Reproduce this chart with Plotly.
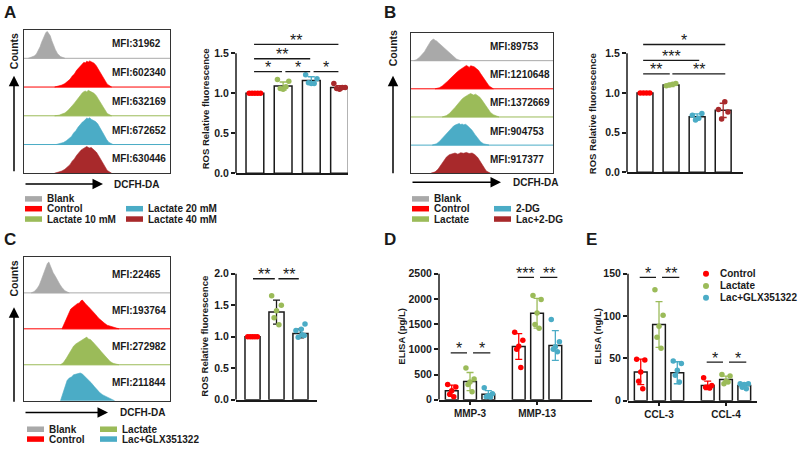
import plotly.graph_objects as go

W, H = 798, 450
FONT = "Liberation Sans"

GREY = "#a9a9a9"
RED = "#ff0000"
GREEN = "#9bbb59"
BLUE = "#4bacc6"
DRED = "#a8292b"
INK = "#1a1a1a"

# ---------------- data ----------------
# flow histograms: x = % of the DCFH-DA window, h = fraction of the row height
a_blank_x = [3, 5, 7, 8.5, 10, 11, 12, 13, 14, 15, 16, 17, 18, 19, 20, 21.5, 23, 25, 28]
a_blank_h = [0, .03, .08, .15, .28, .4, .55, .68, .8, .9, .93, .86, .78, .62, .48, .3, .16, .06, 0]
a_ctrl_x = [21, 24, 26, 28, 30, 31.5, 33, 34.5, 36, 37.5, 39, 40, 41, 42, 43, 44, 45, 46, 47, 48,
            49.5, 51, 52.5, 54, 55.5, 57, 60]
a_ctrl_h = [0, .03, .07, .12, .2, .27, .38, .45, .58, .66, .76, .8, .86, .84, .9, .87, .91, .88,
            .86, .83, .74, .62, .5, .36, .22, .1, 0]
a_l10_x = [21, 24, 26, 28, 30, 31.5, 33, 34.5, 36, 37.5, 39, 40, 41, 42, 43, 44, 45, 46, 47, 48,
           49.5, 51, 52.5, 54, 55.5, 57, 60]
a_l10_h = [0, .02, .06, .1, .18, .25, .35, .44, .55, .64, .74, .8, .84, .86, .83, .89, .86, .84,
           .8, .78, .7, .58, .46, .32, .2, .08, 0]
a_l20_x = [22, 25, 27, 29, 31, 32.5, 34, 35.5, 37, 38.5, 40, 41, 42, 43, 44, 45, 46, 47, 48, 49,
           50.5, 52, 53.5, 55, 56.5, 58, 61]
a_l20_h = [0, .03, .07, .13, .2, .28, .4, .48, .6, .7, .78, .82, .87, .92, .9, .93, .88, .86,
           .84, .8, .72, .6, .46, .32, .18, .08, 0]
a_l40_x = [21, 24, 26, 28, 30, 31.5, 33, 34.5, 36, 37.5, 39, 40, 41, 42, 43, 44, 45, 46, 47, 48,
           49.5, 51, 52.5, 54, 55.5, 57, 60]
a_l40_h = [0, .04, .08, .14, .22, .3, .42, .5, .62, .72, .8, .84, .88, .9, .93, .9, .88, .9,
           .85, .8, .74, .62, .5, .36, .22, .1, 0]
a_mfi = [31962, 602340, 632169, 672652, 630446]

b_blank_x = [2, 4, 6, 8, 9.5, 11, 12.5, 14, 15, 16, 17, 18, 19.5, 21, 22.5, 24, 26, 28, 30, 32, 35]
b_blank_h = [0, .04, .12, .22, .32, .45, .58, .7, .74, .77, .72, .7, .63, .56, .5, .42, .34, .22,
             .13, .06, 0]
b_ctrl_x = [17, 20, 22, 24, 26, 28, 29.5, 31, 32.5, 34, 35.5, 37, 38, 39, 40, 41, 42, 43, 44.5,
            46, 47.5, 49, 51, 53, 55, 58]
b_ctrl_h = [0, .04, .1, .18, .28, .38, .46, .55, .6, .66, .72, .78, .8, .83, .8, .76, .82, .8,
            .78, .72, .66, .54, .4, .24, .1, 0]
b_lac_x = [22, 25, 27, 29, 31, 33, 34.5, 36, 37.5, 39, 40, 41, 42, 43, 44, 45.5, 47, 48.5, 50,
           52, 54, 56, 58, 62]
b_lac_h = [0, .05, .12, .22, .34, .46, .56, .64, .7, .76, .78, .81, .83, .79, .78, .81, .76, .7,
           .6, .46, .3, .16, .08, 0]
b_dg_x = [15, 18, 20, 22, 24, 25.5, 27, 28.5, 30, 31.5, 33, 34, 35, 36, 37, 38.5, 40, 41.5, 43,
          45, 47, 49, 51, 55]
b_dg_h = [0, .05, .13, .24, .36, .46, .55, .62, .68, .72, .74, .77, .73, .75, .72, .74, .68, .62,
          .53, .38, .24, .12, .05, 0]
b_lacdg_x = [14, 17, 19, 21, 23, 25, 27, 29, 31, 33, 35, 37, 39, 41, 43, 45, 47, 49, 51, 53, 56]
b_lacdg_h = [0, .05, .14, .28, .44, .58, .66, .7, .72, .68, .73, .71, .74, .7, .72, .66, .56,
             .4, .22, .08, 0]
b_mfi = [89753, 1210648, 1372669, 904753, 917377]

c_blank_x = [5, 7, 9, 10.5, 12, 13, 14, 15, 16, 17, 18, 19, 20, 21.5, 23, 24.5, 26, 28, 31]
c_blank_h = [0, .04, .12, .22, .38, .5, .62, .74, .82, .86, .76, .64, .56, .46, .34, .24, .15,
             .06, 0]
c_ctrl_x = [26, 27.5, 29, 30.5, 32, 33.5, 35, 36.5, 38, 39, 40, 41, 42.5, 44, 45.5, 47, 49, 51,
            53, 55, 57, 59, 61, 63, 65]
c_ctrl_h = [0, .14, .3, .45, .55, .6, .66, .7, .72, .78, .8, .74, .68, .62, .56, .48, .4, .3,
            .22, .16, .1, .07, .05, .02, 0]
c_lac_x = [25, 27, 29, 31, 32.5, 34, 35.5, 37, 38.5, 40, 41, 42, 43, 44, 45.5, 47, 49, 51, 53,
           55, 57, 59, 61, 65]
c_lac_h = [0, .06, .18, .32, .44, .52, .58, .62, .66, .7, .73, .76, .77, .72, .7, .64, .56, .46,
           .36, .26, .16, .09, .04, 0]
c_glx_x = [25, 26.5, 28, 29.5, 31, 32.5, 34, 35.5, 37, 38.5, 40, 41.5, 43, 44.5, 46, 48, 50, 52,
           54, 56, 58, 60, 62]
c_glx_h = [0, .2, .42, .56, .63, .66, .72, .74, .76, .77, .74, .68, .63, .56, .5, .4, .3, .22,
           .16, .12, .08, .04, 0]
c_mfi = [22465, 193764, 272982, 211844]

# ROS relative fluorescence
a_mean = [1.0, 1.09, 1.16, 1.07]
a_sd = [0.0, 0.05, 0.045, 0.025]
a_pts = [[1.0, 1.0, 1.0, 1.0, 1.0],
         [1.17, 1.15, 1.05, 1.06, 1.08],
         [1.23, 1.18, 1.12, 1.13, 1.12],
         [1.12, 1.07, 1.05, 1.06, 1.07]]
a_sig = [(0, 1, 1.27, "*"), (1, 2, 1.27, "*"), (2, 3, 1.27, "*"),
         (0, 2, 1.43, "**"), (0, 3, 1.61, "**")]

b_mean = [1.0, 1.10, 0.70, 0.78]
b_sd = [0.0, 0.02, 0.035, 0.09]
b_pts = [[1.0, 1.0, 1.0, 1.0],
         [1.09, 1.12, 1.10, 1.11],
         [0.72, 0.74, 0.66, 0.68],
         [0.79, 0.76, 0.67, 0.89]]
b_sig = [(0, 1, 1.24, "**"), (1, 3, 1.24, "**"), (0, 2, 1.41, "***"), (0, 3, 1.61, "*")]

c_mean = [1.0, 1.39, 1.05]
c_sd = [0.0, 0.19, 0.07]
c_pts = [[1.0, 1.0, 1.0, 1.0, 1.0],
         [1.65, 1.50, 1.41, 1.30, 1.19],
         [1.20, 1.12, 1.10, 1.03, 0.99, 1.02]]
c_sig = [(0, 1, 1.92, "**"), (1, 2, 1.92, "**")]

# ELISA
d_cats = ["MMP-3", "MMP-13"]
d_mean = [[178, 1055], [360, 1715], [110, 1075]]
d_sd = [[110, 255], [180, 295], [70, 295]]
d_pts = [[[300, 250, 180, 110, 60], [1340, 1180, 1060, 1000, 640]],
         [[630, 410, 350, 300, 160], [2070, 1990, 1720, 1490, 1420]],
         [[235, 120, 80, 60, 50], [1590, 1150, 1050, 1000, 950]]]
d_sig = [(0, 0, 1, 930, "*"), (0, 1, 2, 930, "*"), (1, 0, 1, 2428, "***"), (1, 1, 2, 2428, "**")]

e_cats = ["CCL-3", "CCL-4"]
e_mean = [[34, 18], [90, 25], [33, 18]]
e_sd = [[15, 5], [27, 4], [13, 2.5]]
e_pts = [[[49, 48, 34, 23, 14], [27, 18, 16, 16, 15]],
         [[131, 101, 88, 75, 62], [31, 29, 23, 20, 22]],
         [[47, 44, 36, 30, 22], [20, 20, 19, 16, 14]]]
e_sig = [(0, 0, 1, 145.5, "*"), (0, 1, 2, 145.5, "**"), (1, 0, 1, 45.5, "*"), (1, 1, 2, 45.5, "*")]
e_groups = ["Control", "Lactate", "Lac+GLX351322"]

# ---------------- helpers ----------------
fig = go.Figure()

J = {4: [-0.3, 0.3, -0.1, 0.1],
     5: [-0.32, 0.32, 0.0, -0.16, 0.16],
     6: [0.3, 0.05, -0.3, 0.1, -0.15, 0.25]}


def fx(p):
    return p / W


def fy(p):
    return 1 - p / H


def bfont(size, color=INK):
    return dict(family=FONT, size=size, color=color, weight="bold")


def names(n):
    return ("x" if n == 1 else f"x{n}"), ("y" if n == 1 else f"y{n}")


def label(x, y, s, size=10, anchor="left", angle=0):
    fig.add_annotation(x=fx(x), y=fy(y), xref="paper", yref="paper", text=s,
                       showarrow=False, xanchor=anchor, yanchor="middle",
                       textangle=angle, font=bfont(size))


def arrow(xh, yh, ax, ay):
    fig.add_annotation(x=fx(xh), y=fy(yh), xref="paper", yref="paper", text="",
                       showarrow=True, ax=ax, ay=ay, arrowhead=2, arrowsize=1.4,
                       arrowwidth=1.5, arrowcolor="black")


def swatch(x, y, col):
    fig.add_shape(type="rect", xref="paper", yref="paper", x0=fx(x), x1=fx(x + 17),
                  y0=fy(y + 2.8), y1=fy(y - 2.8), fillcolor=col, line_width=0)


def hist_panel(n, box, curves, mfi, mfi_x):
    xl, xr, yt, yb = box
    xa, ya = names(n)
    rows = len(curves)
    fig.update_layout(**{
        ("xaxis" if n == 1 else f"xaxis{n}"): dict(
            domain=[fx(xl), fx(xr)], anchor=ya, range=[0, 100], showline=True, mirror=True,
            linecolor="#333", linewidth=1.3, showticklabels=False, ticks="",
            showgrid=False, zeroline=False, fixedrange=True),
        ("yaxis" if n == 1 else f"yaxis{n}"): dict(
            domain=[fy(yb), fy(yt)], anchor=xa, range=[0, rows], showline=True, mirror=True,
            linecolor="#333", linewidth=1.3, showticklabels=False, ticks="",
            showgrid=False, zeroline=False, fixedrange=True)})
    for i, (xs, hs, col) in enumerate(curves):
        base = rows - 1 - i
        fig.add_trace(go.Scatter(
            x=list(xs) + [xs[-1], xs[0]], y=[base + h for h in hs] + [base, base],
            mode="lines", fill="toself", fillcolor=col, line=dict(width=0.6, color=col),
            xaxis=xa, yaxis=ya, hoverinfo="skip", showlegend=False))
        if base > 0:
            fig.add_trace(go.Scatter(
                x=[0, 100], y=[base, base], mode="lines", line=dict(width=1, color=col),
                xaxis=xa, yaxis=ya, hoverinfo="skip", showlegend=False))
        fig.add_annotation(x=mfi_x, y=base + 0.5, xref=xa, yref=ya, text=f"MFI:{mfi[i]}",
                           showarrow=False, xanchor="left", yanchor="middle", font=bfont(10))


def bar_axes(n, xl, xr, ybot, ytop, xrange, ytop_val, tickvals, fmt, cats=None):
    xa, ya = names(n)
    xax = dict(domain=[fx(xl), fx(xr)], anchor=ya, range=xrange, showline=True,
               linecolor=INK, linewidth=1.5, showgrid=False, zeroline=False, fixedrange=True,
               ticks="", showticklabels=False)
    if cats:
        xax.update(tickvals=list(range(len(cats))), ticktext=cats, ticks="outside",
                   ticklen=4, tickwidth=1.5, tickcolor=INK, showticklabels=True,
                   tickfont=bfont(10))
    yax = dict(domain=[fy(ybot), fy(ytop)], anchor=xa, range=[0, ytop_val], showline=False,
               showgrid=False, zeroline=False, fixedrange=True, tickvals=tickvals,
               tickformat=fmt, ticks="outside", ticklen=4, tickwidth=1.5, tickcolor=INK,
               tickfont=bfont(10.5))
    fig.update_layout(**{("xaxis" if n == 1 else f"xaxis{n}"): xax,
                         ("yaxis" if n == 1 else f"yaxis{n}"): yax})
    fig.add_shape(type="line", xref=f"{xa} domain", yref=ya, x0=0, x1=0,
                  y0=0, y1=tickvals[-1], line=dict(color=INK, width=1.5))


def group(n, x, mean, sd, pts, col, ecol, width):
    xa, ya = names(n)
    fig.add_trace(go.Bar(x=[x], y=[mean], width=width, xaxis=xa, yaxis=ya,
                         marker=dict(color="white", line=dict(color=INK, width=1.5)),
                         hoverinfo="skip", showlegend=False))
    if sd > 0:
        fig.add_trace(go.Scatter(
            x=[x], y=[mean], mode="markers", marker=dict(size=1, color="rgba(0,0,0,0)"),
            error_y=dict(type="data", array=[sd], visible=True, color=ecol, thickness=1.3, width=3.5),
            xaxis=xa, yaxis=ya, hoverinfo="skip", showlegend=False))
    jit = J[len(pts)]
    fig.add_trace(go.Scatter(
        x=[x + j * width for j in jit], y=pts, mode="markers",
        marker=dict(size=5.5, color=col), xaxis=xa, yaxis=ya,
        hoverinfo="skip", showlegend=False))


def sig(n, x0, x1, y, s):
    xa, ya = names(n)
    fig.add_trace(go.Scatter(x=[x0, x1], y=[y, y], mode="lines",
                             line=dict(color=INK, width=1.3), xaxis=xa, yaxis=ya,
                             hoverinfo="skip", showlegend=False))
    fig.add_annotation(x=(x0 + x1) / 2, y=y, xref=xa, yref=ya, text=s, showarrow=False,
                       yanchor="middle", yshift=4, font=dict(family=FONT, size=16, color=INK))


# ---------------- panel A ----------------
hist_panel(1, (24, 170, 29, 175),
           [(a_blank_x, a_blank_h, GREY), (a_ctrl_x, a_ctrl_h, RED), (a_l10_x, a_l10_h, GREEN),
            (a_l20_x, a_l20_h, BLUE), (a_l40_x, a_l40_h, DRED)], a_mfi, 59)
bar_axes(2, 236, 348, 175, 36.7, [-0.67, 3.3], 1.7, [0, 0.5, 1.0, 1.5], ".1f")
cols4 = [RED, GREEN, BLUE, DRED]
for i in range(4):
    group(2, i, a_mean[i], a_sd[i], a_pts[i], cols4[i], cols4[i], 0.63)
for i, j, y, s in a_sig:
    sig(2, i + (0.08 if i else -0.03), j - 0.04, y, s)

# ---------------- panel B ----------------
hist_panel(3, (411, 553, 32, 175),
           [(b_blank_x, b_blank_h, GREY), (b_ctrl_x, b_ctrl_h, RED), (b_lac_x, b_lac_h, GREEN),
            (b_dg_x, b_dg_h, BLUE), (b_lacdg_x, b_lacdg_h, DRED)], b_mfi, 54)
bar_axes(4, 627, 743, 174, 36.9, [-0.69, 3.76], 1.7, [0, 0.5, 1.0, 1.5], ".1f")
for i in range(4):
    group(4, i, b_mean[i], b_sd[i], b_pts[i], cols4[i], cols4[i], 0.61)
for i, j, y, s in b_sig:
    sig(4, i + (0.05 if i else -0.07), j + (-0.05 if j == 1 else 0.08), y, s)

# ---------------- panel C ----------------
hist_panel(5, (24, 170, 260, 406),
           [(c_blank_x, c_blank_h, GREY), (c_ctrl_x, c_ctrl_h, RED), (c_lac_x, c_lac_h, GREEN),
            (c_glx_x, c_glx_h, BLUE)], c_mfi, 59)
bar_axes(6, 236, 317, 405, 270.6, [-0.69, 2.69], 2.1, [0, 0.5, 1.0, 1.5, 2.0], ".1f")
cols3 = [RED, GREEN, BLUE]
for i in range(3):
    group(6, i, c_mean[i], c_sd[i], c_pts[i], cols3[i], INK, 0.63)
for i, j, y, s in c_sig:
    sig(6, i + (0.08 if i else 0.02), j - 0.07, y, s)

# ---------------- panel D ----------------
OFF = [-0.273, 0.0, 0.273]


def elisa_sig(n, c, g0, g1, y, s):
    sig(n, c + OFF[g0] + (0.045 if g0 else -0.015), c + OFF[g1] + (-0.045 if g1 == 1 else 0.03), y, s)


bar_axes(7, 439, 592, 405, 271.9, [-0.463, 1.82], 2600, [0, 500, 1000, 1500, 2000, 2500], "d", d_cats)
for g in range(3):
    for c in range(2):
        group(7, c + OFF[g], d_mean[g][c], d_sd[g][c], d_pts[g][c], cols3[g], cols3[g], 0.19)
for c, g0, g1, y, s in d_sig:
    elisa_sig(7, c, g0, g1, y, s)

# ---------------- panel E ----------------
bar_axes(8, 628, 757, 406, 271.8, [-0.463, 1.463], 156, [0, 50, 100, 150], "d", e_cats)
for g in range(3):
    for c in range(2):
        group(8, c + OFF[g], e_mean[g][c], e_sd[g][c], e_pts[g][c], cols3[g], cols3[g], 0.19)
for c, g0, g1, y, s in e_sig:
    elisa_sig(8, c, g0, g1, y, s)

# ---------------- text, arrows, legends ----------------
for s, x, y in [("A", 2, 12), ("B", 382, 12), ("C", 2, 242), ("D", 382, 242), ("E", 584, 242)]:
    label(x, y, s, size=17)

label(14, 51, "Counts", 10.5, "center", -90)
arrow(14, 76, 0, 97)
label(393, 48, "Counts", 10.5, "center", -90)
arrow(393, 76, 0, 99)
label(14, 282, "Counts", 10.5, "center", -90)
arrow(14, 311, 0, 96)

arrow(103, 186, -79, 0)
label(112, 186, "DCFH-DA", 10)
arrow(501, 184, -90, 0)
label(511, 184, "DCFH-DA", 10)
arrow(108, 418, -84, 0)
label(118, 418, "DCFH-DA", 10)

label(205, 110, "ROS Relative fluorescence", 9.5, "center", -90)
label(592, 115, "ROS Relative fluorescence", 9.5, "center", -90)
label(205, 341, "ROS Relative fluorescence", 9.5, "center", -90)
label(402, 341, "ELISA (pg/L)", 9.5, "center", -90)
label(598, 341, "ELISA (ng/L)", 9.5, "center", -90)

for x, y, col, s in [(25, 201, GREY, "Blank"), (25, 211, RED, "Control"),
                     (25, 221.5, GREEN, "Lactate 10 mM"), (126, 211, BLUE, "Lactate 20 mM"),
                     (126, 221.5, DRED, "Lactate 40 mM"),
                     (412, 201, GREY, "Blank"), (412, 211, RED, "Control"),
                     (412, 221.5, GREEN, "Lactate"), (494, 211, BLUE, "2-DG"),
                     (494, 221.5, DRED, "Lac+2-DG"),
                     (27, 435, GREY, "Blank"), (27, 445, RED, "Control"),
                     (100, 435, GREEN, "Lactate"), (100, 445, BLUE, "Lac+GLX351322")]:
    swatch(x, y, col)
    label(x + 20, y, s, 10)

for k, y in enumerate([277, 289.5, 301.5]):
    fig.add_shape(type="circle", xref="paper", yref="paper", x0=fx(703), x1=fx(709),
                  y0=fy(y + 3), y1=fy(y - 3), fillcolor=cols3[k], line_width=0)
    label(718, y, e_groups[k], 10)

fig.update_layout(width=W, height=H, margin=dict(l=0, r=0, t=0, b=0),
                  paper_bgcolor="white", plot_bgcolor="white", barmode="overlay",
                  showlegend=False, font=dict(family=FONT))

# the page body has a default 8px margin; drop it so the figure fills the window
fig.write_html("out.html", config={"displayModeBar": False},
               post_script="document.body.style.margin='0';")
